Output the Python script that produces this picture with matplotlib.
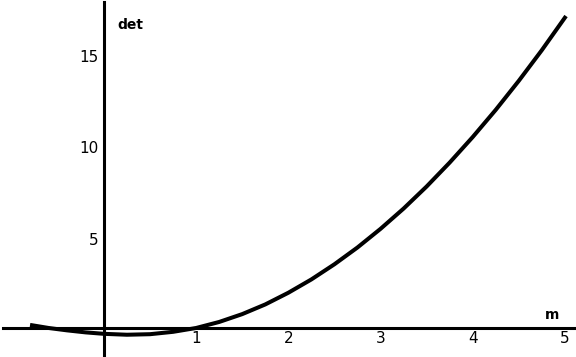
import matplotlib
matplotlib.use("Agg")
import matplotlib.pyplot as plt
import matplotlib.transforms as mtransforms

# values
m_vals = [-0.78, -0.6, -0.4, -0.2, 0.0, 0.25, 0.5, 0.75, 1.0, 1.25, 1.5, 1.75,
          2.0, 2.25, 2.5, 2.75, 3.0, 3.25, 3.5, 3.75, 4.0, 4.25, 4.5, 4.75, 5.0]
det_vals = [0.15, 0.0, -0.13, -0.24, -0.32, -0.37, -0.34, -0.21, 0.0, 0.33, 0.76, 1.29,
            1.93, 2.66, 3.49, 4.41, 5.43, 6.54, 7.75, 9.06, 10.46, 11.95, 13.54, 15.22, 17.0]
x_ticks = [1, 2, 3, 4, 5]
y_ticks = [5, 10, 15]

fig = plt.figure(figsize=(5.76, 3.57), dpi=100)
ax = fig.add_axes([3 / 576, 2 / 357, 572 / 576, 353 / 357])

ax.plot(m_vals, det_vals, color="black", linewidth=2.9)

ax.set_xlim(-1.095, 5.11)
ax.set_ylim(-1.48, 17.86)

for side in ["top", "right"]:
    ax.spines[side].set_visible(False)
ax.spines["left"].set_position(("data", 0))
ax.spines["bottom"].set_position(("data", 0))
ax.spines["left"].set_linewidth(2.2)
ax.spines["bottom"].set_linewidth(2.2)

ax.set_xticks(x_ticks)
ax.set_yticks(y_ticks)
ax.tick_params(length=0, labelsize=11)
ax.tick_params(axis="x", pad=2)
ax.tick_params(axis="y", pad=4)

# nudge y tick labels down a couple of pixels
shift = mtransforms.ScaledTranslation(0, -2 / 100, fig.dpi_scale_trans)
for lbl in ax.get_yticklabels():
    lbl.set_transform(lbl.get_transform() + shift)

ax.text(0.15, 16.62, "det", fontsize=10, fontweight="bold", ha="left", va="center")
ax.text(4.86, 0.7, "m", fontsize=10, fontweight="bold", ha="center", va="center")

fig.savefig("out.png", dpi=100)
